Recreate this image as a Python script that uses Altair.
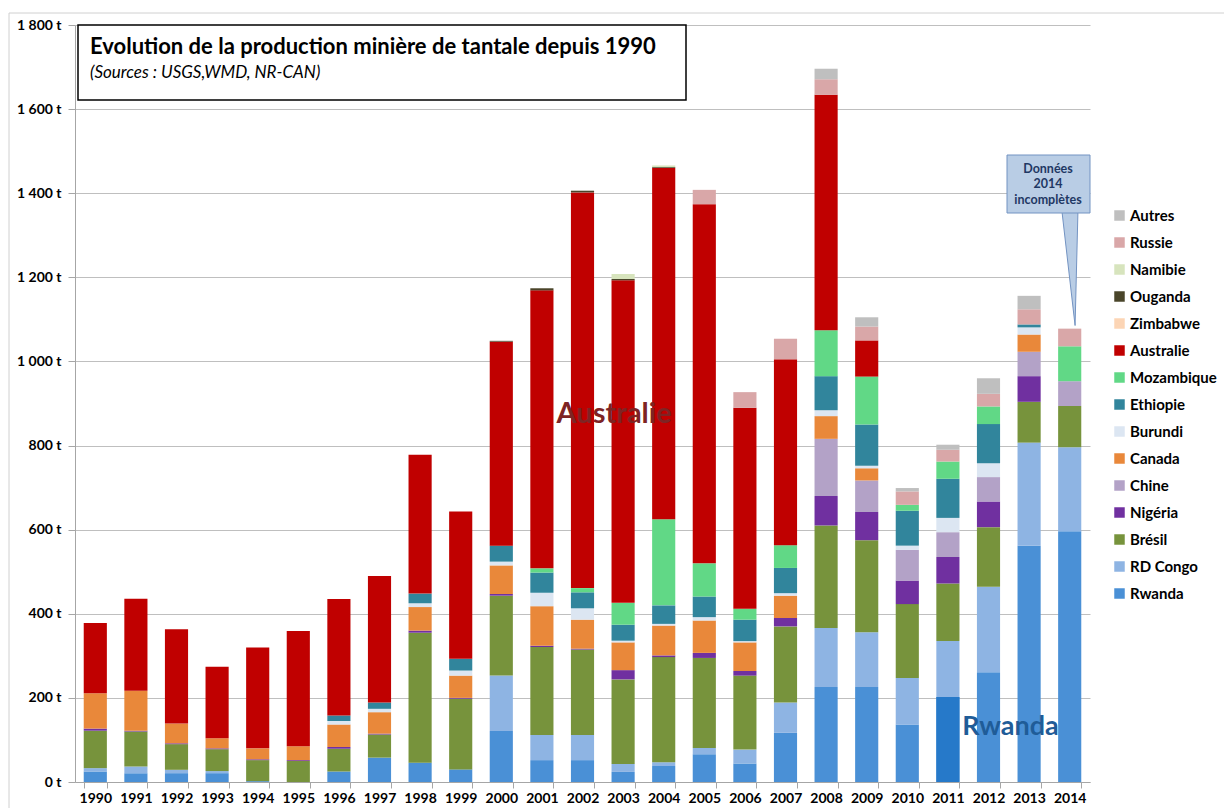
import altair as alt
import pandas as pd

years = [str(y) for y in range(1990, 2015)]

# stacking order, bottom to top
countries = ["Rwanda", "RD Congo", "Brésil", "Nigéria", "Chine", "Canada", "Burundi",
             "Ethiopie", "Mozambique", "Australie", "Zimbabwe", "Ouganda", "Namibie",
             "Russie", "Autres"]
colors = ["#4A90D6", "#8EB4E3", "#77933C", "#7030A0", "#B3A2C7", "#E9883A", "#DCE6F2",
          "#31859C", "#61D886", "#C00000", "#FCD5B5", "#4A452A", "#D7E4BD",
          "#D9A7A8", "#BFBFBF"]

rwanda     = [25, 21, 21, 21, 2, 0, 25, 58, 46, 30, 121, 52, 52, 24, 38, 66, 44, 117, 226, 226, 137, 202, 261, 562, 596]
rd_congo   = [8, 16, 8, 5, 0, 0, 0, 0, 0, 0, 132, 60, 60, 19, 9, 15, 33, 72, 140, 130, 110, 133, 203, 245, 200]
bresil     = [89, 83, 61, 52, 50, 50, 54, 55, 309, 168, 190, 209, 203, 201, 250, 214, 176, 181, 244, 219, 176, 137, 142, 97, 98]
nigeria    = [5, 2, 2, 2, 2, 2, 4, 2, 5, 2, 4, 3, 2, 22, 4, 12, 11, 20, 70, 67, 56, 63, 61, 61, 0]
chine      = [0, 0, 0, 0, 0, 0, 0, 0, 0, 0, 0, 0, 0, 0, 0, 0, 0, 0, 136, 75, 73, 59, 58, 58, 59]
canada     = [84, 95, 47, 24, 26, 33, 54, 51, 56, 53, 68, 94, 69, 66, 71, 77, 68, 53, 54, 29, 0, 0, 0, 41, 0]
burundi    = [0, 0, 0, 0, 0, 0, 8, 8, 9, 12, 9, 32, 27, 4, 4, 8, 3, 6, 14, 6, 10, 34, 33, 17, 0]
ethiopie   = [0, 0, 0, 0, 0, 0, 13, 15, 23, 28, 38, 48, 38, 38, 44, 49, 51, 60, 81, 98, 83, 93, 93, 7, 0]
mozambique = [0, 0, 0, 0, 0, 0, 0, 0, 0, 0, 0, 10, 10, 52, 205, 79, 26, 54, 109, 114, 14, 41, 42, 0, 83]
australie  = [167, 219, 224, 170, 240, 274, 277, 301, 330, 350, 485, 661, 941, 767, 835, 854, 478, 442, 560, 86, 0, 0, 0, 0, 0]
zimbabwe   = [0] * 25
ouganda    = [0, 0, 0, 0, 0, 0, 0, 0, 0, 0, 2, 5, 4, 3, 2, 0, 0, 0, 0, 0, 0, 0, 0, 0, 0]
namibie    = [0, 0, 0, 0, 0, 0, 0, 0, 0, 0, 0, 0, 0, 12, 4, 0, 0, 0, 0, 0, 0, 0, 0, 0, 0]
russie     = [0, 0, 0, 0, 0, 0, 0, 0, 0, 0, 0, 0, 0, 0, 0, 34, 37, 49, 37, 33, 32, 28, 30, 36, 42]
autres     = [0, 0, 0, 0, 0, 0, 0, 0, 0, 0, 0, 0, 0, 0, 0, 0, 0, 0, 25, 22, 8, 12, 37, 32, 0]

series = [rwanda, rd_congo, bresil, nigeria, chine, canada, burundi, ethiopie, mozambique,
          australie, zimbabwe, ouganda, namibie, russie, autres]

rows = []
for i, (c, vals) in enumerate(zip(countries, series)):
    for y, v in zip(years, vals):
        rows.append({"year": y, "country": c, "value": v, "ord": i})
df = pd.DataFrame(rows)

legend_order = countries[::-1]
legend_colors = colors[::-1]

FONT = "Lato"

x_enc = alt.X("year:O", sort=years,
              scale=alt.Scale(paddingInner=0.43, paddingOuter=0.215),
              axis=alt.Axis(title=None, labelAngle=0, labelFont=FONT, labelFontWeight="bold",
                            labelFontSize=14, labelColor="#000000", labelPadding=3,
                            tickBand="extent", tickColor="#A6A6A6", tickSize=6,
                            domainColor="#A6A6A6", grid=False))

bars = alt.Chart(df).mark_bar().encode(
    x=x_enc,
    y=alt.Y("value:Q", stack="zero",
            scale=alt.Scale(domain=[0, 1800], nice=False),
            axis=alt.Axis(title=None, values=list(range(0, 1801, 200)),
                          labelExpr="replace(format(datum.value, ','), ',', ' ') + ' t'",
                          labelFont=FONT, labelFontWeight="bold", labelFontSize=14,
                          labelColor="#000000", labelPadding=7,
                          tickColor="#A6A6A6", tickSize=7, domainColor="#A6A6A6",
                          gridColor="#BFBFBF", gridWidth=1)),
    color=alt.Color("country:N",
                    scale=alt.Scale(domain=legend_order, range=legend_colors),
                    legend=alt.Legend(title=None, orient="none", legendX=1037, legendY=183,
                                      symbolType="square", symbolSize=110, symbolStrokeWidth=0,
                                      labelFont=FONT, labelFontWeight="bold", labelFontSize=15,
                                      labelColor="#000000", rowPadding=11, labelOffset=3)),
    order=alt.Order("ord:Q", sort="ascending"),
)

# highlighted Rwanda 2011 bar (slightly darker in the original)
hl = alt.Chart(df[(df.country == "Rwanda") & (df.year == "2011")]).mark_bar(color="#2679C9").encode(
    x=alt.X("year:O", sort=years), y="value:Q")

lab_aus = alt.Chart(pd.DataFrame({"year": ["2003"], "value": [874], "t": ["Australie"]})).mark_text(
    font=FONT, fontWeight="bold", fontSize=29, color="#7E2424", dx=-9).encode(
    x=alt.X("year:O", sort=years), y="value:Q", text="t:N")

lab_rw = alt.Chart(pd.DataFrame({"year": ["2012"], "value": [131], "t": ["Rwanda"]})).mark_text(
    font=FONT, fontWeight="bold", fontSize=27, color="#1F5C98", dx=22).encode(
    x=alt.X("year:O", sort=years), y="value:Q", text="t:N")

one = pd.DataFrame({"a": [0]})

border = alt.Chart(one).mark_rect(fill="transparent", stroke="#D0D0D0", strokeWidth=1).encode(
    x=alt.value(-66), x2=alt.value(1170), y=alt.value(-12), y2=alt.value(800))

title_box = alt.Chart(one).mark_rect(fill="white", stroke="#000000", strokeWidth=1.5).encode(
    x=alt.value(3), x2=alt.value(611), y=alt.value(0), y2=alt.value(75))
title_txt = alt.Chart(pd.DataFrame({"t": ["Evolution de la production minière de tantale depuis 1990"]})).mark_text(
    font=FONT, fontWeight="bold", fontSize=22, align="left", baseline="middle", color="#000000").encode(
    x=alt.value(15), y=alt.value(22), text="t:N")
sub_txt = alt.Chart(pd.DataFrame({"t": ["(Sources : USGS,WMD, NR-CAN)"]})).mark_text(
    font=FONT, fontStyle="italic", fontSize=17, align="left", baseline="middle", color="#000000").encode(
    x=alt.value(15), y=alt.value(48), text="t:N")

pointer = alt.Chart(one).mark_point(
    shape="M -0.14 -1 L 0.14 -1 L 0.09 1 Z", filled=True, fill="#B9CDE5",
    stroke="#7393C2", strokeWidth=1, opacity=1, size=12769).encode(
    x=alt.value(995), y=alt.value(244))
call_box = alt.Chart(one).mark_rect(fill="#B9CDE5", stroke="#7393C2", strokeWidth=1).encode(
    x=alt.value(932), x2=alt.value(1015), y=alt.value(130), y2=alt.value(188))
call_txt = alt.Chart(pd.DataFrame({"t": ["Données", "2014", "incomplètes"], "yy": [144, 159, 175]})).mark_text(
    font=FONT, fontWeight="bold", fontSize=12.5, align="center", baseline="middle", color="#1F3864").encode(
    x=alt.value(973), y=alt.Y("yy:Q", scale=None), text="t:N")

chart = alt.layer(border, bars, hl, lab_aus, lab_rw, title_box, title_txt, sub_txt,
                  pointer, call_box, call_txt).properties(
    width=1015, height=757,
    padding={"left": 67, "top": 17, "right": 134, "bottom": 26},
    autosize=alt.AutoSizeParams(type="none"),
    background="white",
).configure_view(strokeWidth=0)

chart.save("out.html", embed_options={"renderer": "svg", "actions": False})
